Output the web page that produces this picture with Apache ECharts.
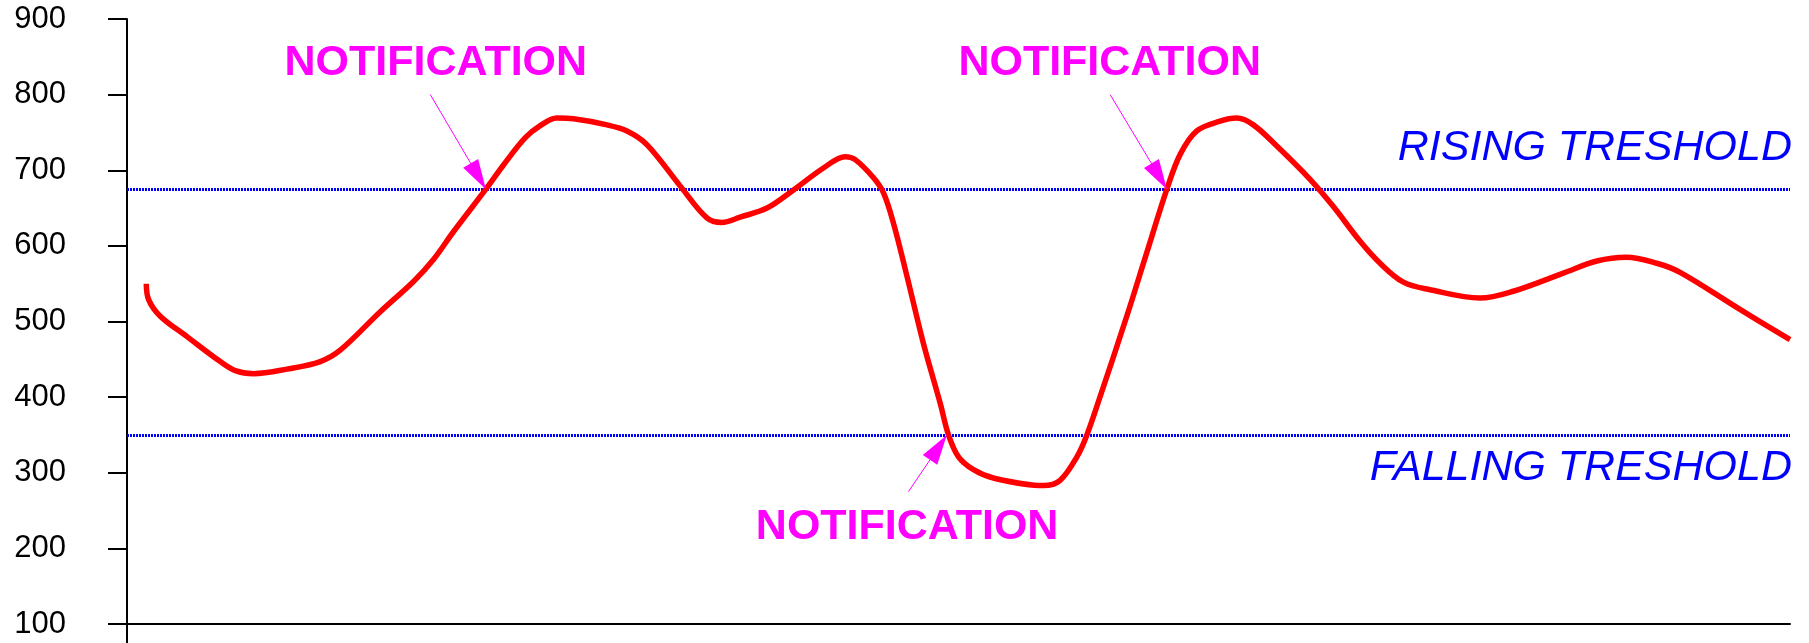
<!DOCTYPE html>
<html>
<head>
    <meta charset="utf-8">
    <title>Threshold notification</title>
    <script src="https://cdn.jsdelivr.net/npm/echarts@6/dist/echarts.min.js"></script>
    <style>
        *{margin: 0;padding: 0;}
        body{background: #fff;}
    </style>
</head>
<body>
    <div id="main" style="width: 1809px;height:643px;"></div>
    <script type="text/javascript">
        // sampled curve, x on a 0..100 scale along the axis
        var lineX = [1.16, 1.30, 2.00, 3.61, 5.61, 6.51, 7.61, 9.62, 11.62, 12.82, 15.23, 17.23, 18.43, 19.64,
            21.58, 22.64, 23.95, 24.85, 25.85, 26.85, 28.86, 30.06, 31.26, 33.27, 34.87, 35.77, 36.87, 38.48,
            40.08, 41.88, 43.19, 43.79, 44.89, 45.49, 46.09, 46.90, 47.89, 48.90, 49.40, 50.00, 50.90, 52.10,
            55.11, 56.11, 57.12, 57.72, 58.52, 60.12, 61.32, 62.53, 63.33, 64.33, 65.73, 66.74, 67.73, 69.14,
            71.14, 72.54, 74.15, 75.35, 76.75, 78.36, 81.36, 83.36, 86.37, 88.38, 90.18, 91.99, 93.39, 96.99, 100];
        var lineY = [550, 529, 507, 480, 447, 435, 431, 437, 447, 462, 513, 553, 582, 619,
            675, 707, 743, 759, 769, 768, 760, 752, 734, 679, 637, 631, 638, 650,
            674, 703, 718, 714, 690, 670, 630, 560, 471, 392, 350, 321, 304, 293,
            283, 290, 321, 350, 401, 507, 591, 675, 721, 752, 765, 769, 760, 732,
            688, 652, 606, 577, 552, 542, 531, 540, 564, 580, 585, 577, 565, 516, 476];

        var risingTreshold = 675;
        var fallingTreshold = 350;

        // notification texts [x, y] and arrows [fromX, fromY, toX, toY]
        var noteText = 'NOTIFICATION';
        var notePos = [[18.57, 841], [59.09, 841], [46.91, 228]];
        var noteArrows = [
            [18.24, 800, 21.58, 675],
            [59.12, 800, 62.53, 675],
            [46.99, 275, 49.30, 350]
        ];
        var tresholdLabels = [['RISING TRESHOLD', 100, 729], ['FALLING TRESHOLD', 100, 306]];

        var yTicks = [100, 200, 300, 400, 500, 600, 700, 800, 900];

        var FONT = '"Liberation Sans", Arial, sans-serif';
        var myChart = echarts.init(document.getElementById('main'));

        var lineData = [];
        for (var i = 0; i < lineX.length; i++) {
            lineData.push([lineX[i], lineY[i]]);
        }

        var arrowData = noteArrows.map(function (a) {
            return [{coord: [a[0], a[1]]}, {coord: [a[2], a[3]]}];
        });

        option = {
            animation: false,
            backgroundColor: '#fff',
            grid: {left: 127, right: 19, top: 19, bottom: 19},
            xAxis: {
                type: 'value',
                min: 0,
                max: 100,
                axisLine: {lineStyle: {color: '#000', width: 2}},
                axisTick: {show: false},
                axisLabel: {show: false},
                splitLine: {show: false}
            },
            yAxis: {
                type: 'value',
                min: yTicks[0],
                max: yTicks[yTicks.length - 1],
                interval: 100,
                axisLine: {show: true, lineStyle: {color: '#000', width: 2}},
                axisTick: {show: true, length: 19, lineStyle: {color: '#000', width: 2}},
                axisLabel: {color: '#000', fontSize: 31, fontFamily: FONT, margin: 61},
                splitLine: {show: false}
            },
            series: [
                {
                    type: 'line',
                    data: lineData,
                    smooth: 0.35,
                    symbol: 'none',
                    lineStyle: {color: '#ff0000', width: 5.5},
                    z: 5,
                    markLine: {
                        silent: true,
                        symbol: 'none',
                        label: {show: false},
                        lineStyle: {color: '#0000ff', width: 3, type: [2, 1]},
                        data: [{yAxis: risingTreshold}, {yAxis: fallingTreshold}]
                    }
                },
                {
                    type: 'line',
                    data: [],
                    z: 6,
                    markLine: {
                        silent: true,
                        symbol: 'none',
                        label: {show: false},
                        lineStyle: {color: '#ff00ff', width: 1, type: 'solid'},
                        data: arrowData
                    }
                }
            ]
        };

        myChart.setOption(option);

        // texts, arrow heads and the short y axis stub below the x axis
        var g = [];
        notePos.forEach(function (p) {
            var px = myChart.convertToPixel({gridIndex: 0}, p);
            g.push({
                type: 'text', x: px[0], y: px[1], z: 10,
                style: {
                    text: noteText, fill: '#ff00ff', font: 'bold 43px ' + FONT,
                    align: 'center', verticalAlign: 'middle',
                    textAlign: 'center', textVerticalAlign: 'middle'
                }
            });
        });
        noteArrows.forEach(function (a) {
            var from = myChart.convertToPixel({gridIndex: 0}, [a[0], a[1]]);
            var tip = myChart.convertToPixel({gridIndex: 0}, [a[2], a[3]]);
            var dx = tip[0] - from[0], dy = tip[1] - from[1];
            var len = Math.sqrt(dx * dx + dy * dy);
            var ux = dx / len, uy = dy / len;
            var bx = tip[0] - ux * 30, by = tip[1] - uy * 30;
            g.push({
                type: 'polygon', z: 11,
                shape: {points: [[tip[0], tip[1]], [bx - uy * 8.7, by + ux * 8.7], [bx + uy * 8.7, by - ux * 8.7]]},
                style: {fill: '#ff00ff'}
            });
        });
        tresholdLabels.forEach(function (t) {
            var px = myChart.convertToPixel({gridIndex: 0}, [t[1], t[2]]);
            g.push({
                type: 'text', x: px[0] + 2, y: px[1], z: 10,
                style: {
                    text: t[0], fill: '#0000ff', font: 'italic 43px ' + FONT,
                    align: 'right', verticalAlign: 'middle',
                    textAlign: 'right', textVerticalAlign: 'middle'
                }
            });
        });
        var base = myChart.convertToPixel({gridIndex: 0}, [0, yTicks[0]]);
        g.push({
            type: 'line', z: 10,
            shape: {x1: base[0], y1: base[1], x2: base[0], y2: myChart.getHeight()},
            style: {stroke: '#000', lineWidth: 2}
        });
        myChart.setOption({graphic: g});
    </script>
</body>
</html>
